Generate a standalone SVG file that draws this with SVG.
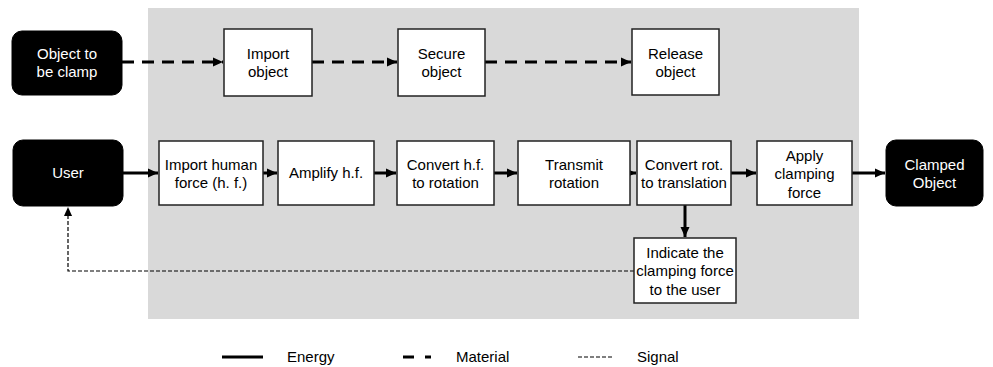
<svg xmlns="http://www.w3.org/2000/svg" width="993" height="367" viewBox="0 0 993 367">
<style>
.t{font-family:"Liberation Sans",Arial,sans-serif;font-size:15px;text-anchor:middle;fill:#000}
.w{fill:#fff}
.box{fill:#fff;stroke:#222;stroke-width:1.5}
.term{fill:#000;stroke:#000}
.en{stroke:#000;stroke-width:3;fill:none}
.mat{stroke:#000;stroke-width:3;fill:none;stroke-dasharray:12 8}
.sig{stroke:#000;stroke-width:1.2;fill:none;stroke-dasharray:4 2}
</style>
<defs>
<marker id="ah" markerUnits="userSpaceOnUse" markerWidth="10" markerHeight="10" viewBox="0 0 10 10" refX="10" refY="5" orient="auto">
<path d="M0,0.5 L10,5 L0,9.5 z" fill="#000"/>
</marker>
<marker id="ahs" markerUnits="userSpaceOnUse" markerWidth="9" markerHeight="9" viewBox="0 0 10 10" refX="10" refY="5" orient="auto">
<path d="M0,0.5 L10,5 L0,9.5 z" fill="#000"/>
</marker>
</defs>
<rect x="148" y="8" width="711" height="311" fill="#d9d9d9"/>
<g id="connectors">
<line class="mat" x1="122" y1="62" x2="223" y2="62" marker-end="url(#ah)"/>
<line class="mat" x1="312" y1="62" x2="397" y2="62" marker-end="url(#ah)"/>
<line class="mat" x1="485" y1="62" x2="631" y2="62" marker-end="url(#ah)"/>
<line class="en" x1="123" y1="173" x2="158" y2="173" marker-end="url(#ah)"/>
<line class="en" x1="263" y1="173" x2="277" y2="173" marker-end="url(#ah)"/>
<line class="en" x1="374" y1="173" x2="396" y2="173" marker-end="url(#ah)"/>
<line class="en" x1="494" y1="173" x2="517" y2="173" marker-end="url(#ah)"/>
<line class="en" x1="630" y1="173" x2="636" y2="173" marker-end="url(#ah)"/>
<line class="en" x1="731" y1="173" x2="756" y2="173" marker-end="url(#ah)"/>
<line class="en" x1="852" y1="173" x2="885" y2="173" marker-end="url(#ah)"/>
<line class="en" x1="685" y1="205" x2="685" y2="237" marker-end="url(#ah)"/>
<path class="sig" d="M634,271 H68 V207" marker-end="url(#ahs)"/>
</g>
<g id="obj"><rect class="term" x="12" y="31" width="110" height="64" rx="10"/><text class="t w" x="67" y="59">Object to</text><text class="t w" x="67" y="77">be clamp</text></g>
<g id="import-object"><rect class="box" x="224" y="29" width="88" height="67"/><text class="t" x="268" y="59">Import</text><text class="t" x="268" y="77">object</text></g>
<g id="secure-object"><rect class="box" x="398" y="29" width="87" height="67"/><text class="t" x="441.5" y="59">Secure</text><text class="t" x="441.5" y="77">object</text></g>
<g id="release-object"><rect class="box" x="632" y="29" width="87" height="66"/><text class="t" x="675.5" y="59">Release</text><text class="t" x="675.5" y="77">object</text></g>
<g id="user"><rect class="term" x="13" y="140" width="110" height="66" rx="10"/><text class="t w" x="68" y="178">User</text></g>
<g id="import-hf"><rect class="box" x="159" y="141" width="104" height="64"/><text class="t" x="211" y="170">Import human</text><text class="t" x="211" y="188">force (h. f.)</text></g>
<g id="amplify"><rect class="box" x="278" y="141" width="96" height="64"/><text class="t" x="326" y="178">Amplify h.f.</text></g>
<g id="convert-hf"><rect class="box" x="397" y="141" width="97" height="64"/><text class="t" x="445.5" y="170">Convert h.f.</text><text class="t" x="445.5" y="188">to rotation</text></g>
<g id="transmit"><rect class="box" x="518" y="141" width="112" height="64"/><text class="t" x="574" y="170">Transmit</text><text class="t" x="574" y="188">rotation</text></g>
<g id="convert-rot"><rect class="box" x="637" y="141" width="94" height="64"/><text class="t" x="684" y="170">Convert rot.</text><text class="t" x="684" y="188">to translation</text></g>
<g id="apply"><rect class="box" x="757" y="141" width="95" height="64"/><text class="t" x="804.5" y="161">Apply</text><text class="t" x="804.5" y="179">clamping</text><text class="t" x="804.5" y="198">force</text></g>
<g id="clamped"><rect class="term" x="886" y="140" width="97" height="66" rx="10"/><text class="t w" x="934.5" y="170">Clamped</text><text class="t w" x="934.5" y="188">Object</text></g>
<g id="indicate"><rect class="box" x="634" y="238" width="102" height="65"/><text class="t" x="685" y="258">Indicate the</text><text class="t" x="685" y="276">clamping force</text><text class="t" x="685" y="295">to the user</text></g>
<g id="legend">
<line x1="222" y1="357" x2="263" y2="357" stroke="#000" stroke-width="3"/>
<text class="t" x="287" y="362" style="text-anchor:start">Energy</text>
<line x1="403" y1="357" x2="414" y2="357" stroke="#000" stroke-width="3"/>
<line x1="425" y1="357" x2="431" y2="357" stroke="#000" stroke-width="3"/>
<text class="t" x="456" y="362" style="text-anchor:start">Material</text>
<line x1="578" y1="357" x2="613" y2="357" stroke="#000" stroke-width="1.2" stroke-dasharray="4 2"/>
<text class="t" x="637" y="362" style="text-anchor:start">Signal</text>
</g>
</svg>
